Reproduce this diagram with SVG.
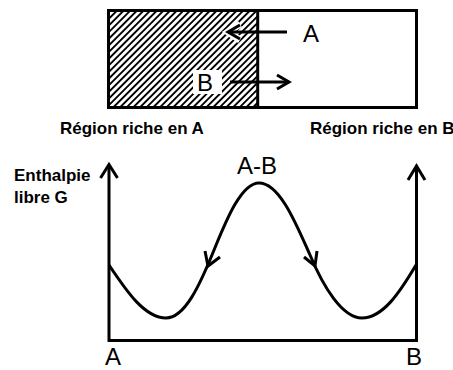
<svg xmlns="http://www.w3.org/2000/svg" width="453" height="370" viewBox="0 0 453 370">
<style>
.ln{fill:none;stroke:#000;stroke-width:3;stroke-linejoin:miter;stroke-linecap:butt}
.bold{font-family:"Liberation Sans",Arial,sans-serif;font-weight:bold;font-size:17px;fill:#000}
.reg{font-family:"Liberation Sans",Arial,sans-serif;font-size:24px;fill:#000}
</style>
<defs>
<pattern id="hatch" patternUnits="userSpaceOnUse" width="4.7" height="10" patternTransform="rotate(45)">
<rect x="0" y="0" width="1.8" height="10" fill="#000" shape-rendering="crispEdges"/>
</pattern>
</defs>
<rect width="453" height="370" fill="#fff"/>
<g id="box">
<rect x="108.5" y="10.5" width="149.2" height="97" fill="url(#hatch)"/>
<rect x="193" y="70" width="29" height="24" fill="#fff"/>
<polyline points="240,24 228,32 240,40" fill="none" stroke="#fff" stroke-width="7"/>
<rect x="108.5" y="10.5" width="308" height="97" class="ln"/>
<line x1="257.7" y1="10.5" x2="257.7" y2="107.5" class="ln"/>
</g>
<g id="arrowA">
<line x1="287" y1="32" x2="229" y2="32" class="ln"/>
<polyline points="240,25 228,32 240,39" class="ln"/>
<text x="303" y="42" class="reg" font-size="25">A</text>
</g>
<g id="arrowB">
<line x1="230" y1="82" x2="289" y2="82" class="ln"/>
<polyline points="277,75 289,82 277,89" class="ln"/>
<text x="197" y="91" class="reg" font-size="25">B</text>
</g>
<text id="labelA" x="60" y="134" class="bold">Région riche en A</text>
<text id="labelB" x="310" y="134" class="bold">Région riche en B</text>
<g id="ylabel">
<text x="14" y="181" class="bold">Enthalpie</text>
<text x="14" y="203" class="bold">libre G</text>
</g>
<g id="axes">
<polyline points="109,166 109,340.5 416.5,340.5 416.5,167" class="ln"/>
<polyline points="100.5,178 109,164.5 117.5,178" class="ln"/>
<polyline points="408,180 416.5,166 425,180" class="ln"/>
</g>
<g id="connectors">
<path class="ln" d="M109,265 C127,292 145,318 166,318 C185,318 200,284 212,255 C224,226 240,183 259,183 C280,183 297,226 310,255 C323,286 342,318 362,318 C383,318 400,292 416,265"/>
<polyline points="205,251 208,266 220,257" class="ln"/>
<polyline points="304,257 315,266 317,251" class="ln"/>
</g>
<text id="peak" x="237" y="174" class="reg" font-size="22" textLength="40" lengthAdjust="spacingAndGlyphs">A-B</text>
<text id="axA" x="105" y="365" class="reg" font-size="22">A</text>
<text id="axB" x="406" y="365" class="reg" font-size="22">B</text>
</svg>
